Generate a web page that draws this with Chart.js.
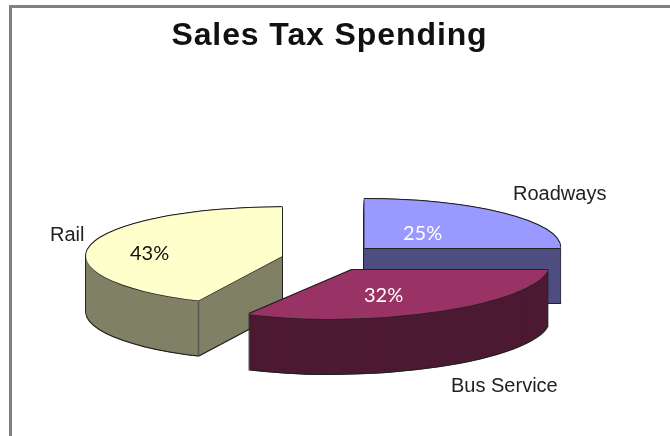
<!DOCTYPE html>
<html>
<head>
<meta charset="utf-8">
<title>Sales Tax Spending</title>
<script src="https://cdn.jsdelivr.net/npm/chart.js@4"></script>
<style>
  html, body { margin: 0; background: #fff; overflow: hidden; }
  #frame { position: absolute; left: 9px; top: 5px; right: 0; bottom: 0; border-left: 3px solid #808080; border-top: 3px solid #808080; }
  #chart { position: absolute; left: 0; top: 0; }
</style>
</head>
<body>
<div id="frame"></div>
<canvas id="chart" width="670" height="436"></canvas>
<script>
// --- data ---
const categories = ['Roadways', 'Bus Service', 'Rail'];
const shares = [25, 32, 43];

// --- look of the slices ---
const topColors = ['#9999FF', '#993366', '#FFFFCC'];
const sideColors = ['#4D4D80', '#4D1A33', '#808066'];
const explode = [58.7, 54, 42];  // px, pulled out along the middle of the slice
const lean = [0, -0.45, 0];      // old Excel perspective pulls the front slice to the left
const drawOrder = [0, 2, 1];     // back to front

// where the labels go
const nameSpots = [[513, 200], [451, 392], [50, 241]];
const shareSpots = [[403, 240], [364, 302], [130, 260]];
const shareColors = ['#fff', '#fff', '#111'];

const pieX = 323, pieY = 258.5, tilt = 0.25, depth = 55;
const lineColor = '#222';

function paintArc(ctx, arc, i, color, dx, dy) {
  const mid = (arc.startAngle + arc.endAngle) / 2;
  ctx.save();
  ctx.translate(pieX + dx + Math.cos(mid) * explode[i], pieY + dy + Math.sin(mid) * explode[i] * tilt);
  ctx.transform(1, 0, lean[i] * tilt, tilt, 0, 0);
  ctx.translate(-arc.x, -arc.y);
  const saved = arc.options;
  arc.options = Object.assign({}, saved, { backgroundColor: color });
  arc.draw(ctx);
  arc.options = saved;
  ctx.restore();
}

// fakes the 3D look: every slice is redrawn going down, then the top face on it
const pie3d = {
  id: 'pie3d',
  beforeDraw(chart) {
    chart.ctx.letterSpacing = '0.9px';  // only the title wants this
  },
  beforeDatasetDraw(chart) {
    const ctx = chart.ctx;
    const arcs = chart.getDatasetMeta(0).data;
    drawOrder.forEach(i => {
      const arc = arcs[i];
      for (let y = depth + 1; y >= -1; y--) {
        paintArc(ctx, arc, i, lineColor, -0.7, y);
        paintArc(ctx, arc, i, lineColor, 0.7, y);
      }
      for (let y = depth; y >= 0; y--) paintArc(ctx, arc, i, sideColors[i], 0, y);
      paintArc(ctx, arc, i, lineColor, 0, 0.8);
      paintArc(ctx, arc, i, topColors[i], 0, 0);
    });

    // the edge where the rail wall turns
    const rail = arcs[2];
    const mid = (rail.startAngle + rail.endAngle) / 2;
    const ex = pieX + Math.cos(mid) * explode[2] + Math.cos(rail.startAngle) * rail.outerRadius;
    const ey = pieY + (Math.sin(mid) * explode[2] + Math.sin(rail.startAngle) * rail.outerRadius) * tilt;
    ctx.save();
    ctx.strokeStyle = '#555';
    ctx.lineWidth = 1.5;
    ctx.beginPath();
    ctx.moveTo(ex, ey);
    ctx.lineTo(ex, ey + depth);
    ctx.stroke();
    ctx.restore();
    return false;
  },
  afterDraw(chart) {
    const ctx = chart.ctx;
    ctx.save();
    ctx.letterSpacing = '0px';
    ctx.textBaseline = 'alphabetic';
    ctx.textAlign = 'left';
    ctx.font = '20px "Liberation Sans"';
    ctx.fillStyle = '#222';
    categories.forEach((name, i) => ctx.fillText(name, nameSpots[i][0], nameSpots[i][1]));
    ctx.font = '20px Lato';
    shares.forEach((v, i) => {
      ctx.fillStyle = shareColors[i];
      ctx.fillText(v + '%', shareSpots[i][0], shareSpots[i][1]);
    });
    ctx.restore();
  }
};

new Chart(document.getElementById('chart'), {
  type: 'pie',
  data: {
    labels: categories,
    datasets: [{
      data: shares,
      backgroundColor: topColors,
      borderWidth: 0,
      radius: 196
    }]
  },
  options: {
    responsive: false,
    animation: false,
    events: [],
    layout: { padding: { right: 11 } },
    plugins: {
      legend: { display: false },
      tooltip: { enabled: false },
      title: {
        display: true,
        text: 'Sales Tax Spending',
        color: '#111',
        font: { family: '"Liberation Sans"', size: 32, weight: 'bold' },
        padding: { top: 17, bottom: 10 }
      }
    }
  },
  plugins: [pie3d]
});
</script>
</body>
</html>
